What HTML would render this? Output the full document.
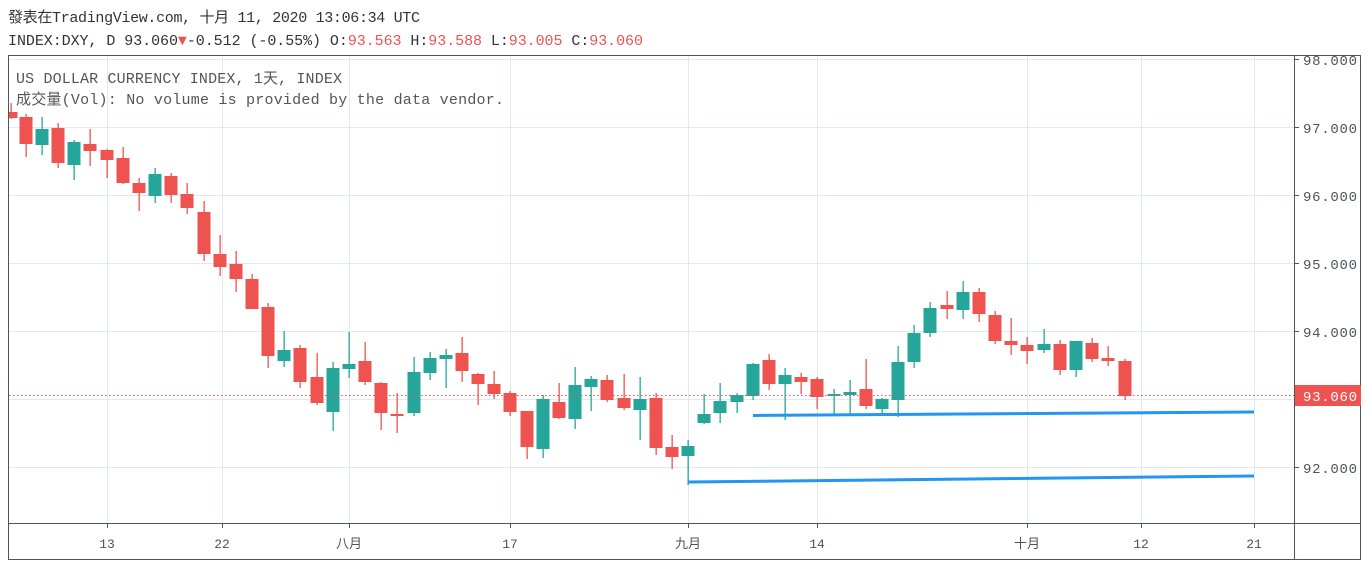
<!DOCTYPE html>
<html><head><meta charset="utf-8"><style>
html,body{margin:0;padding:0;background:#fff;width:1370px;height:568px;overflow:hidden}
svg{display:block}
text{font-family:"Liberation Mono","Noto Sans CJK SC",monospace}
</style></head><body>
<svg id="s" width="1370" height="568" xmlns="http://www.w3.org/2000/svg">
<defs><clipPath id="cp"><rect x="9" y="56" width="1285" height="467"/></clipPath></defs>
<rect width="1370" height="568" fill="#fff"/>
<g stroke="#e1e8ef" stroke-width="1">
<line x1="9" y1="59.5" x2="1294" y2="59.5"/><line x1="9" y1="127.5" x2="1294" y2="127.5"/>
<line x1="9" y1="195.5" x2="1294" y2="195.5"/><line x1="9" y1="263.5" x2="1294" y2="263.5"/>
<line x1="9" y1="331.5" x2="1294" y2="331.5"/><line x1="9" y1="399.5" x2="1294" y2="399.5"/>
<line x1="9" y1="467.5" x2="1294" y2="467.5"/>
<line x1="107.5" y1="56" x2="107.5" y2="523"/><line x1="222.5" y1="56" x2="222.5" y2="523"/>
<line x1="349.5" y1="56" x2="349.5" y2="523"/><line x1="510.5" y1="56" x2="510.5" y2="523"/>
<line x1="688.5" y1="56" x2="688.5" y2="523"/><line x1="817.5" y1="56" x2="817.5" y2="523"/>
<line x1="1027.5" y1="56" x2="1027.5" y2="523"/><line x1="1141.5" y1="56" x2="1141.5" y2="523"/>
<line x1="1254.5" y1="56" x2="1254.5" y2="523"/>
</g>
<g id="c" clip-path="url(#cp)"></g>
<line x1="9" y1="395.5" x2="1294" y2="395.5" stroke="#ef5350" stroke-width="1" stroke-dasharray="1.5,2.5"/>
<line x1="753" y1="415.5" x2="1254" y2="412" stroke="#2196f3" stroke-width="3"/>
<line x1="688" y1="482" x2="1254" y2="476" stroke="#2196f3" stroke-width="3"/>
<g stroke="#50535e" stroke-width="1" fill="none">
<rect x="8.5" y="55.5" width="1352" height="504"/>
<line x1="1294.5" y1="55" x2="1294.5" y2="560"/>
<line x1="8" y1="523.5" x2="1361" y2="523.5"/>
</g>
<g stroke="#50535e">
<line x1="1295" y1="59.5" x2="1299" y2="59.5"/><line x1="1295" y1="127.5" x2="1299" y2="127.5"/>
<line x1="1295" y1="195.5" x2="1299" y2="195.5"/><line x1="1295" y1="263.5" x2="1299" y2="263.5"/>
<line x1="1295" y1="331.5" x2="1299" y2="331.5"/><line x1="1295" y1="467.5" x2="1299" y2="467.5"/>
<line x1="107.5" y1="524" x2="107.5" y2="528"/><line x1="222.5" y1="524" x2="222.5" y2="528"/>
<line x1="349.5" y1="524" x2="349.5" y2="528"/><line x1="510.5" y1="524" x2="510.5" y2="528"/>
<line x1="688.5" y1="524" x2="688.5" y2="528"/><line x1="817.5" y1="524" x2="817.5" y2="528"/>
<line x1="1027.5" y1="524" x2="1027.5" y2="528"/><line x1="1141.5" y1="524" x2="1141.5" y2="528"/>
<line x1="1254.5" y1="524" x2="1254.5" y2="528"/>
</g>
<g font-size="14" fill="#50535e">
<text x="1303" y="65" textLength="54">98.000</text><text x="1303" y="133" textLength="54">97.000</text>
<text x="1303" y="201" textLength="54">96.000</text><text x="1303" y="269" textLength="54">95.000</text>
<text x="1303" y="337" textLength="54">94.000</text><text x="1303" y="473" textLength="54">92.000</text>
</g>
<rect x="1295" y="385" width="66" height="21" fill="#ef5350"/>
<text x="1303" y="401" font-size="14" fill="#fff" textLength="54">93.060</text>
<g font-size="13" fill="#50535e" text-anchor="middle">
<text x="107" y="548">13</text><text x="222" y="548">22</text>
<text x="349" y="548">八月</text><text x="510" y="548">17</text>
<text x="688" y="548">九月</text><text x="817" y="548">14</text>
<text x="1027" y="548">十月</text><text x="1141" y="548">12</text>
<text x="1254" y="548">21</text>
</g>
<text x="8" y="22" font-size="15" fill="#333" textLength="412">發表在TradingView.com, 十月 11, 2020 13:06:34 UTC</text>
<text x="8" y="45" font-size="15" fill="#333" textLength="635">INDEX:DXY, D 93.060<tspan fill="#ef5350">▼</tspan>-0.512 (-0.55%) O:<tspan fill="#ef5350">93.563</tspan> H:<tspan fill="#ef5350">93.588</tspan> L:<tspan fill="#ef5350">93.005</tspan> C:<tspan fill="#ef5350">93.060</tspan></text>
<text x="16" y="83" font-size="15" fill="#555" textLength="326">US DOLLAR CURRENCY INDEX, 1天, INDEX</text>
<text x="16" y="104" font-size="15" fill="#555" textLength="488">成交量(Vol): No volume is provided by the data vendor.</text>
</svg>
<script>
var d=[
[11,103,119,112,118,0],[26,114,157,117,144,0],[42,117,155,129,145,1],[58,123,168,128,163,0],
[74,140,180,142,165,1],[90,129,166,144,151,0],[107,149,178,150,160,0],[123,147,184,158,183,0],
[139,178,211,183,193,0],[155,168,203,174,196,1],[171,173,203,176,195,0],[187,183,214,194,208,0],
[204,201,261,212,254,0],[220,235,276,254,267,0],[236,251,292,264,279,0],[252,274,309,279,309,0],
[268,303,368,307,356,0],[284,331,367,350,361,1],[300,345,388,348,382,0],[317,353,405,377,403,0],
[333,362,431,368,412,1],[349,332,378,364,369,1],[365,342,385,361,382,0],[381,382,430,383,413,0],
[397,393,433,414,416,0],[414,357,416,372,413,1],[430,352,380,358,373,1],[446,349,388,355,359,1],
[462,337,382,353,371,0],[478,373,405,374,384,0],[494,371,399,384,394,0],[510,391,416,393,412,0],
[527,411,459,411,447,0],[543,395,458,399,449,1],[559,383,419,402,418,0],[575,367,429,385,419,1],
[591,376,411,379,387,1],[607,375,402,380,400,0],[624,374,410,398,408,0],[640,377,440,399,410,1],
[656,393,455,398,448,0],[672,435,469,447,457,0],[688,440,485,446,456,1],[704,394,424,414,423,1],
[720,383,423,401,413,1],[737,393,413,395,402,1],[753,363,400,364,396,1],[769,354,390,360,384,0],
[785,368,420,375,384,1],[801,373,394,377,382,0],[817,377,409,379,397,0],[834,389,415,394,396,1],
[850,380,415,392,395,1],[866,359,409,389,406,0],[882,398,416,399,409,1],[898,346,417,362,400,1],
[914,325,368,333,362,1],[930,302,337,308,333,1],[947,291,319,305,309,0],[963,281,319,292,310,1],
[979,288,322,292,314,0],[995,311,344,315,341,0],[1011,318,355,341,345,0],[1027,337,364,345,351,0],
[1044,329,353,344,350,1],[1060,340,375,344,370,0],[1076,341,377,341,370,1],[1092,338,362,343,359,0],
[1108,346,366,358,361,0],[1125,359,400,361,396,0]];
var g=document.getElementById('c'),h='';
d.forEach(function(c){var col=c[5]?'#26a69a':'#ef5350';
h+='<rect x="'+(c[0]-0.5)+'" y="'+c[1]+'" width="1.3" height="'+(c[2]-c[1])+'" fill="'+col+'"/>';
h+='<rect x="'+(c[0]-6.5)+'" y="'+c[3]+'" width="13" height="'+Math.max(1.5,c[4]-c[3])+'" fill="'+col+'"/>';});
g.innerHTML=h;
</script>
</body></html>
